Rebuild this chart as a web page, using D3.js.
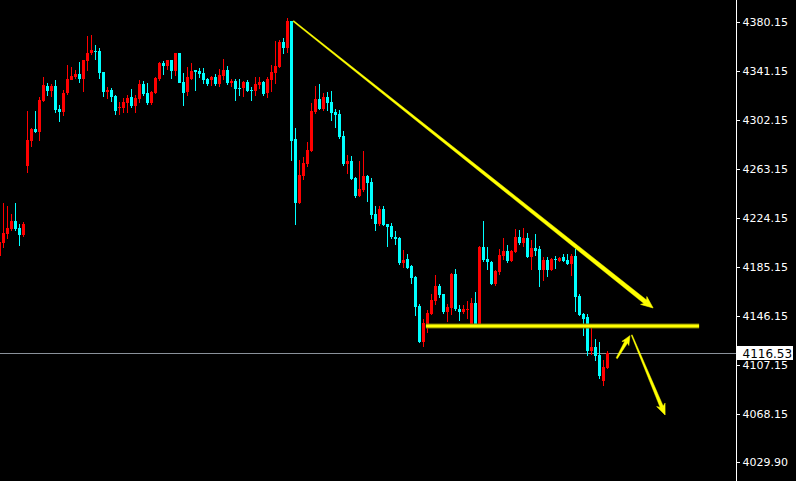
<!DOCTYPE html>
<html>
<head>
<meta charset="utf-8">
<script src="https://cdn.jsdelivr.net/npm/d3@7/dist/d3.min.js"></script>
<style>
  html, body { margin: 0; padding: 0; background: #000; }
  svg { display: block; }
</style>
</head>
<body>
<div id="chart"></div>
<script>
// ---- Data (prices) ----
const openP = [4193.88,4203.99,4211.40,4215.14,4221.74,4216.17,4210.60,4265.52,4285.42,4294.98,4292.83,4317.26,4329.44,4325.22,4329.20,4311.13,4308.75,4323.39,4333.98,4336.13,4338.99,4334.78,4349.10,4355.47,4357.06,4357.06,4340.35,4324.67,4326.02,4321.24,4311.93,4311.93,4315.67,4320.45,4313.52,4319.09,4330.80,4323.63,4315.67,4323.63,4334.78,4347.51,4345.12,4349.90,4341.14,4355.47,4332.39,4324.43,4334.78,4341.94,4341.14,4339.55,4334.78,4333.98,4336.37,4330.80,4337.16,4341.94,4331.59,4333.18,4327.61,4327.61,4332.39,4326.02,4325.22,4330.00,4332.39,4323.63,4333.98,4339.55,4344.33,4364.23,4359.45,4380.94,4287.02,4236.07,4257.56,4267.12,4277.46,4308.51,4318.86,4310.90,4320.45,4316.47,4308.51,4306.92,4289.40,4267.12,4269.50,4255.97,4241.64,4246.42,4257.56,4252.79,4227.32,4219.36,4231.30,4219.36,4217.76,4209.01,4208.21,4188.31,4191.50,4185.92,4177.17,4154.08,4125.43,4139.76,4147.72,4158.06,4170.00,4163.64,4149.31,4152.49,4179.56,4151.70,4149.31,4150.90,4139.76,4156.47,4138.96,4201.05,4191.50,4189.11,4171.60,4181.15,4193.88,4197.86,4189.90,4197.07,4209.01,4204.23,4208.21,4193.09,4200.25,4199.46,4182.74,4190.70,4182.74,4191.50,4189.90,4193.09,4190.70,4187.52,4193.88,4162.04,4147.72,4145.33,4118.26,4121.45,4115.08,4094.38,4104.73];
const highP = [4208.21,4236.31,4233.68,4227.32,4236.07,4219.36,4220.71,4309.54,4295.53,4309.30,4320.69,4336.37,4331.59,4330.80,4333.98,4314.08,4326.02,4345.92,4344.33,4341.94,4348.31,4349.90,4369.24,4370.04,4361.84,4359.21,4340.35,4328.41,4327.61,4322.04,4316.71,4319.65,4321.80,4326.82,4322.04,4333.98,4333.18,4331.59,4325.22,4336.37,4348.31,4349.10,4349.90,4349.90,4355.47,4355.47,4339.55,4344.33,4347.51,4341.94,4343.53,4343.53,4335.57,4337.16,4338.76,4342.74,4350.70,4345.12,4334.78,4334.78,4334.78,4333.18,4333.98,4328.41,4336.37,4336.37,4333.18,4336.37,4345.92,4365.02,4365.82,4367.41,4383.33,4380.94,4295.77,4270.30,4272.69,4284.63,4315.67,4329.20,4330.80,4323.63,4324.43,4325.22,4310.90,4310.10,4293.38,4274.28,4273.48,4256.77,4269.50,4277.46,4258.36,4255.97,4233.68,4233.68,4233.68,4219.36,4220.15,4213.78,4209.01,4198.66,4195.48,4186.72,4177.96,4155.68,4143.74,4150.90,4163.64,4178.76,4171.60,4163.64,4155.68,4180.35,4183.54,4154.88,4154.88,4158.06,4160.45,4165.23,4201.84,4221.74,4201.05,4189.90,4182.74,4199.46,4208.21,4202.64,4198.66,4215.38,4214.58,4216.17,4212.19,4206.62,4211.40,4201.84,4193.09,4193.09,4192.29,4193.88,4193.09,4195.48,4195.48,4195.48,4199.46,4163.64,4148.51,4147.72,4137.37,4127.82,4125.43,4111.10,4118.26];
const lowP = [4185.92,4200.01,4207.65,4213.55,4213.55,4201.84,4208.77,4260.19,4280.89,4291.79,4285.66,4316.47,4321.48,4320.69,4307.95,4300.79,4305.32,4322.04,4333.98,4334.54,4331.83,4324.67,4341.38,4353.88,4349.90,4334.78,4320.69,4318.62,4316.71,4306.12,4306.12,4307.95,4307.47,4311.93,4307.95,4315.91,4321.24,4314.32,4314.08,4323.07,4333.18,4337.96,4341.94,4334.78,4337.16,4331.59,4313.28,4321.24,4333.98,4325.22,4335.57,4330.80,4329.20,4329.20,4329.20,4328.41,4333.98,4330.00,4328.41,4317.26,4321.24,4320.45,4324.43,4317.26,4321.24,4326.82,4321.24,4319.65,4324.43,4330.80,4343.53,4354.68,4355.47,4269.50,4218.56,4235.28,4254.38,4264.73,4276.67,4306.92,4310.10,4309.30,4309.30,4301.34,4295.77,4287.02,4265.52,4259.16,4254.38,4240.05,4240.85,4244.83,4236.87,4223.34,4213.78,4217.76,4217.76,4201.05,4207.42,4202.64,4186.72,4184.33,4183.54,4171.60,4146.12,4124.63,4121.45,4132.59,4146.92,4154.88,4160.45,4147.72,4141.35,4146.92,4150.10,4142.14,4147.72,4143.74,4139.76,4136.57,4138.96,4189.11,4182.74,4170.80,4170.00,4178.76,4190.70,4188.31,4189.11,4196.27,4202.64,4201.05,4192.29,4182.74,4193.88,4169.21,4173.98,4177.17,4181.94,4183.54,4189.11,4189.11,4186.72,4177.96,4149.31,4146.12,4130.20,4114.28,4115.08,4110.30,4095.98,4090.40,4103.94];
const closeP = [4205.03,4212.43,4216.17,4221.74,4215.14,4210.84,4219.36,4286.22,4294.98,4292.59,4318.06,4330.00,4325.22,4329.20,4310.10,4308.51,4323.87,4334.78,4337.16,4338.99,4334.54,4349.90,4355.47,4358.10,4356.51,4339.79,4324.43,4326.02,4320.45,4309.54,4312.49,4316.71,4319.65,4313.52,4319.65,4330.80,4322.84,4315.91,4324.43,4335.57,4347.51,4345.12,4349.90,4341.14,4355.47,4331.59,4324.03,4336.37,4341.14,4340.35,4338.76,4333.98,4330.80,4336.37,4330.80,4337.96,4341.94,4331.59,4333.18,4326.82,4327.05,4332.39,4325.22,4325.22,4330.80,4332.39,4322.84,4334.78,4340.35,4345.12,4364.23,4359.45,4380.94,4285.42,4236.07,4258.36,4267.91,4278.26,4309.30,4318.86,4310.90,4320.45,4315.67,4307.71,4306.12,4288.61,4267.12,4269.50,4255.18,4241.64,4247.22,4257.56,4251.99,4226.52,4219.36,4231.30,4218.56,4216.97,4209.01,4207.42,4188.31,4190.70,4184.33,4176.37,4153.29,4125.43,4140.55,4148.51,4158.86,4170.00,4162.84,4149.31,4153.29,4179.56,4151.70,4149.31,4151.70,4151.70,4156.47,4139.76,4201.05,4190.70,4189.11,4171.60,4181.94,4194.68,4197.86,4189.90,4197.86,4209.01,4204.23,4208.21,4193.09,4200.25,4197.86,4182.74,4190.70,4182.74,4191.50,4190.70,4192.29,4189.90,4187.52,4193.88,4161.25,4146.92,4143.74,4118.26,4121.45,4114.28,4098.36,4105.53,4116.53];

const yTicks = [4380.15, 4341.15, 4302.15, 4263.15, 4224.15, 4185.15, 4146.15, 4107.15, 4068.15, 4029.90];
const lastPrice = 4116.53;

// Annotations in data coordinates (bar index, price)
const trendArrow = { from: [73.45, 4380.9], to: [163.4, 4152.5] };
const supportLine = { from: [106.6, 4138.16], to: [174.9, 4138.16] };
const upArrow = { from: [154.3, 4112.45], to: [157.6, 4130.46] };
const downArrow = { from: [158.05, 4131.0], to: [166.4, 4067.3] };

// ---- Layout ----
const W = 796, H = 481;
const plotRight = 736;
const N = openP.length;

const svg = d3.select('#chart').append('svg')
  .attr('width', W).attr('height', H)
  .style('background', '#000');

svg.append('rect').attr('width', W).attr('height', H).attr('fill', '#000');

const x = d3.scaleBand().domain(d3.range(N)).range([-2.5, -2.5 + 4 * N]).paddingInner(0).paddingOuter(0);
const xAt = i => x(0) + x.bandwidth() / 2 + x.step() * i;
const y = d3.scaleLinear().domain([4029.90, 4380.15]).range([462, 22]);

const data = d3.range(N).map(i => ({ i, o: openP[i], h: highP[i], l: lowP[i], c: closeP[i] }));

const plot = svg.append('g');

// last price line
plot.append('line')
  .attr('x1', 0).attr('x2', plotRight)
  .attr('y1', Math.round(y(lastPrice)) + 0.5).attr('y2', Math.round(y(lastPrice)) + 0.5)
  .attr('stroke', '#8a919a').attr('stroke-width', 1);

// candles
const cg = plot.append('g').attr('shape-rendering', 'crispEdges');
const col = d => d.c >= d.o ? '#ff0000' : '#00ffff';
cg.selectAll('line.wick').data(data).join('line')
  .attr('class', 'wick')
  .attr('x1', d => xAt(d.i)).attr('x2', d => xAt(d.i))
  .attr('y1', d => y(d.h)).attr('y2', d => y(d.l))
  .attr('stroke', col).attr('stroke-width', 1);
const bodyW = x.bandwidth() * 0.75;
cg.selectAll('rect.body').data(data).join('rect')
  .attr('class', 'body')
  .attr('x', d => xAt(d.i) - bodyW / 2)
  .attr('width', bodyW)
  .attr('y', d => Math.min(y(d.o), y(d.c)))
  .attr('height', d => Math.max(1, Math.abs(y(d.o) - y(d.c))))
  .attr('fill', col);

// support line
const sl = plot.append('g');
sl.append('line')
  .attr('x1', xAt(supportLine.from[0])).attr('x2', xAt(supportLine.to[0]))
  .attr('y1', y(supportLine.from[1])).attr('y2', y(supportLine.to[1]))
  .attr('stroke', '#7a7a00').attr('stroke-width', 5);
sl.append('line')
  .attr('x1', xAt(supportLine.from[0])).attr('x2', xAt(supportLine.to[0]))
  .attr('y1', y(supportLine.from[1])).attr('y2', y(supportLine.to[1]))
  .attr('stroke', '#ffff00').attr('stroke-width', 3);

// tapered arrows
function taperedArrow(a, w0, w1, hl, hw) {
  const p0 = [xAt(a.from[0]), y(a.from[1])];
  const p1 = [xAt(a.to[0]), y(a.to[1])];
  const dx = p1[0] - p0[0], dy = p1[1] - p0[1];
  const len = Math.hypot(dx, dy);
  const u = [dx / len, dy / len];
  const n = [-u[1], u[0]];
  const ps = [p1[0] - u[0] * hl * 0.7, p1[1] - u[1] * hl * 0.7];
  const shaft = [
    [p0[0] + n[0] * w0 / 2, p0[1] + n[1] * w0 / 2],
    [ps[0] + n[0] * w1 / 2, ps[1] + n[1] * w1 / 2],
    [ps[0] - n[0] * w1 / 2, ps[1] - n[1] * w1 / 2],
    [p0[0] - n[0] * w0 / 2, p0[1] - n[1] * w0 / 2]
  ];
  const back = [p1[0] - u[0] * hl, p1[1] - u[1] * hl];
  const head = [
    p1,
    [back[0] + n[0] * hw / 2, back[1] + n[1] * hw / 2],
    ps,
    [back[0] - n[0] * hw / 2, back[1] - n[1] * hw / 2]
  ];
  const g = plot.append('g');
  g.append('polygon').attr('points', shaft.map(p => p.join(',')).join(' '))
    .attr('fill', '#ffff00').attr('stroke', '#ffff00').attr('stroke-width', 0.4);
  g.append('polygon').attr('points', head.map(p => p.join(',')).join(' '))
    .attr('fill', '#ffff00').attr('stroke', '#ffff00').attr('stroke-width', 0.6);
}
taperedArrow(trendArrow, 1.2, 4.5, 12, 10);
taperedArrow(upArrow, 1.5, 3.5, 9, 8);
taperedArrow(downArrow, 1.0, 3.5, 11, 9);

// y axis
const ax = svg.append('g');
ax.append('line').attr('x1', plotRight + 0.5).attr('x2', plotRight + 0.5)
  .attr('y1', 0).attr('y2', H).attr('stroke', '#ffffff').attr('stroke-width', 1)
  .attr('shape-rendering', 'crispEdges');
const tg = ax.selectAll('g.tick').data(yTicks).join('g').attr('class', 'tick');
tg.append('line')
  .attr('x1', plotRight + 1).attr('x2', plotRight + 4)
  .attr('y1', d => Math.round(y(d)) + 0.5).attr('y2', d => Math.round(y(d)) + 0.5)
  .attr('stroke', '#ffffff').attr('stroke-width', 1).attr('shape-rendering', 'crispEdges');
tg.append('text')
  .attr('x', plotRight + 6.5)
  .attr('y', d => y(d) + 4)
  .attr('fill', '#ffffff')
  .attr('font-family', 'DejaVu Sans, sans-serif')
  .attr('font-size', 11)
  .text(d => d3.format('.2f')(d));

// last price label
const ly = y(lastPrice);
ax.append('rect').attr('x', plotRight + 1).attr('y', Math.round(ly) - 7)
  .attr('width', 56).attr('height', 14).attr('fill', '#ffffff');
ax.append('text').attr('x', plotRight + 6.5).attr('y', ly + 4.5)
  .attr('fill', '#000000')
  .attr('font-family', 'DejaVu Sans, sans-serif')
  .attr('font-size', 12)
  .text(d3.format('.2f')(lastPrice));
</script>
</body>
</html>
